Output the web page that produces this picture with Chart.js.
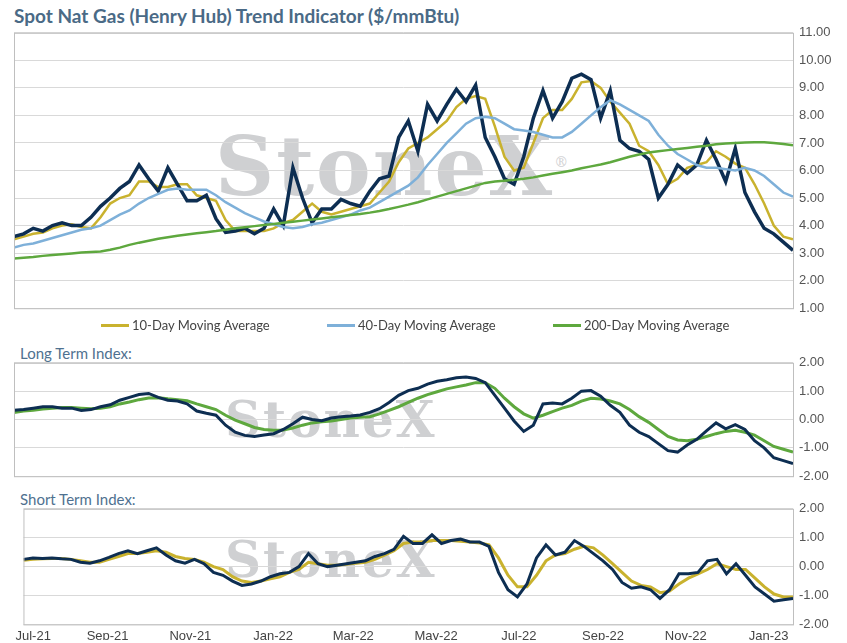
<!DOCTYPE html>
<html>
<head>
<meta charset="utf-8">
<script src="https://cdn.jsdelivr.net/npm/chart.js@4/dist/chart.umd.min.js"></script>
<style>
  body { margin:0; width:847px; height:643px; background:#fff; font-family:Lato, "Open Sans", sans-serif; position:relative; overflow:hidden; }
  .box { position:absolute; left:0; width:847px; }
  .title { position:absolute; left:14px; top:4px; font-size:19px; font-weight:bold; color:#4a6a86; }
  .sub { position:absolute; left:20px; font-size:15px; color:#4f7190; }
  .mark { position:absolute; font-family:"DejaVu Serif", "Liberation Serif", serif; font-weight:bold; color:#cfd0d2; letter-spacing:2px; }
  .legend { position:absolute; top:317px; font-size:13px; color:#444; display:flex; align-items:center; }
  .legend span.sw { display:inline-block; width:28px; height:3px; margin-right:3px; }
</style>
</head>
<body>
<div class="title">Spot Nat Gas (Henry Hub) Trend Indicator ($/mmBtu)</div>
<div class="mark" style="left:215px;top:118px;font-size:82px;">StoneX<sup style="font-size:14px;font-weight:normal">®</sup></div>
<div class="mark" style="left:225px;top:390px;font-size:50px;">StoneX</div>
<div class="mark" style="left:225px;top:530px;font-size:50px;">StoneX</div>
<div class="box" style="top:19px;height:303px"><canvas id="c1"></canvas></div>
<div class="legend" style="left:101px"><span class="sw" style="background:#c9b22e"></span>10-Day Moving Average</div>
<div class="legend" style="left:327px"><span class="sw" style="background:#7eb0d9"></span>40-Day Moving Average</div>
<div class="legend" style="left:553px"><span class="sw" style="background:#5ea83e"></span>200-Day Moving Average</div>
<div class="sub" style="top:344px">Long Term Index:</div>
<div class="box" style="top:349px;height:141px"><canvas id="c2"></canvas></div>
<div class="sub" style="top:490px">Short Term Index:</div>
<div class="box" style="top:495px;height:145px"><canvas id="c3"></canvas></div>
<script>
// weekly samples starting 1 Jul 2021 (x = days since start)
const spot = [3.6,3.7,3.9,3.8,4.0,4.1,4.0,4.0,4.3,4.7,5.0,5.35,5.6,6.2,5.7,5.25,6.1,5.5,4.9,4.9,5.1,4.25,3.75,3.8,3.9,3.7,3.9,4.6,4.0,6.1,5.0,4.1,4.6,4.6,4.95,4.8,4.7,5.25,5.7,5.8,7.2,7.8,6.7,8.4,7.8,8.4,8.95,8.5,9.1,7.2,6.5,5.7,5.5,6.5,7.9,8.9,7.9,8.5,9.35,9.5,9.3,7.9,8.9,7.1,6.8,6.7,6.4,5.0,5.5,6.2,5.9,6.2,7.1,6.4,5.6,6.8,5.2,4.5,3.9,3.7,3.4,3.1];
const ma10 = [3.5,3.6,3.7,3.75,3.9,4.0,4.05,3.95,3.9,4.3,4.8,5.0,5.1,5.6,5.6,5.4,5.4,5.5,5.5,5.1,5.0,4.9,4.2,3.8,3.8,3.8,3.8,3.9,4.1,4.2,4.5,4.8,4.5,4.4,4.5,4.6,4.7,4.8,5.2,5.6,6.3,6.8,7.0,7.2,7.5,7.8,8.3,8.6,8.7,8.6,7.6,6.5,6.0,6.1,7.0,7.9,8.2,8.2,8.6,9.2,9.25,9.0,8.5,8.1,7.7,6.9,6.7,6.2,5.5,5.7,6.1,6.2,6.3,6.7,6.5,6.25,6.1,5.5,4.8,4.0,3.6,3.5];
const ma40 = [3.2,3.3,3.35,3.45,3.55,3.65,3.75,3.85,3.9,4.0,4.2,4.4,4.55,4.8,5.0,5.15,5.3,5.35,5.3,5.3,5.3,5.1,4.85,4.65,4.45,4.3,4.15,4.05,3.95,3.9,3.95,4.05,4.1,4.2,4.3,4.4,4.55,4.65,4.85,5.05,5.25,5.45,5.75,6.2,6.6,7.0,7.35,7.7,7.9,7.95,7.9,7.7,7.5,7.45,7.4,7.3,7.2,7.2,7.4,7.7,8.0,8.3,8.55,8.4,8.2,8.0,7.8,7.3,6.9,6.6,6.4,6.2,6.1,6.1,6.05,6.0,6.1,6.0,5.8,5.5,5.2,5.05];
const ma200 = [2.8,2.83,2.86,2.9,2.93,2.96,2.99,3.02,3.04,3.06,3.12,3.2,3.3,3.38,3.45,3.52,3.58,3.63,3.68,3.72,3.76,3.8,3.85,3.9,3.94,3.98,4.02,4.06,4.1,4.14,4.18,4.22,4.26,4.3,4.34,4.38,4.42,4.47,4.53,4.6,4.68,4.76,4.85,4.95,5.05,5.15,5.25,5.35,5.45,5.55,5.6,5.63,5.66,5.7,5.75,5.82,5.88,5.94,6.0,6.08,6.15,6.22,6.3,6.4,6.5,6.58,6.65,6.7,6.74,6.78,6.82,6.86,6.9,6.95,6.98,7.0,7.02,7.03,7.03,7.0,6.96,6.92];
const ltIndex = [0.33,0.35,0.4,0.45,0.45,0.4,0.4,0.32,0.35,0.45,0.52,0.68,0.78,0.88,0.92,0.78,0.68,0.65,0.55,0.3,0.22,0.15,-0.2,-0.45,-0.56,-0.6,-0.55,-0.5,-0.35,-0.15,0.08,0.0,-0.04,0.05,0.1,0.12,0.16,0.25,0.38,0.6,0.85,1.02,1.1,1.25,1.35,1.4,1.47,1.5,1.45,1.3,0.85,0.4,-0.05,-0.42,-0.2,0.55,0.58,0.55,0.75,1.0,1.02,0.82,0.5,0.25,-0.2,-0.45,-0.6,-0.85,-1.1,-1.15,-0.9,-0.7,-0.4,-0.12,-0.33,-0.18,-0.35,-0.75,-1.0,-1.35,-1.45,-1.55];
const ltSignal = [0.25,0.3,0.33,0.37,0.4,0.42,0.42,0.4,0.38,0.4,0.45,0.55,0.62,0.7,0.76,0.77,0.73,0.7,0.66,0.55,0.45,0.35,0.15,-0.02,-0.15,-0.28,-0.35,-0.38,-0.37,-0.3,-0.2,-0.12,-0.08,-0.05,0.0,0.05,0.08,0.1,0.2,0.32,0.45,0.6,0.75,0.88,0.98,1.08,1.15,1.22,1.3,1.3,1.1,0.75,0.45,0.2,0.05,0.15,0.28,0.4,0.5,0.65,0.75,0.72,0.65,0.55,0.35,0.1,-0.1,-0.35,-0.6,-0.72,-0.75,-0.7,-0.6,-0.5,-0.42,-0.38,-0.45,-0.55,-0.75,-0.95,-1.05,-1.15];
const stIndex = [0.25,0.3,0.28,0.3,0.27,0.25,0.15,0.12,0.2,0.32,0.45,0.55,0.45,0.55,0.65,0.4,0.2,0.12,0.25,0.1,-0.2,-0.3,-0.5,-0.65,-0.6,-0.5,-0.35,-0.25,-0.2,0.0,0.45,0.1,0.0,0.05,0.1,0.15,0.2,0.35,0.45,0.6,1.05,0.8,0.8,1.1,0.8,0.9,0.95,0.85,0.85,0.7,-0.2,-0.8,-1.05,-0.6,0.3,0.75,0.4,0.5,0.9,0.7,0.45,0.2,-0.1,-0.55,-0.75,-0.7,-0.8,-1.1,-0.8,-0.25,-0.25,-0.2,0.2,0.25,-0.25,0.1,-0.3,-0.7,-0.95,-1.2,-1.15,-1.1];
const stSignal = [0.22,0.25,0.27,0.28,0.28,0.25,0.2,0.15,0.15,0.25,0.35,0.45,0.45,0.5,0.55,0.5,0.35,0.28,0.25,0.15,0.0,-0.1,-0.35,-0.5,-0.55,-0.5,-0.42,-0.35,-0.2,-0.1,0.15,0.1,0.05,0.05,0.08,0.12,0.15,0.25,0.4,0.55,0.8,0.85,0.85,0.9,0.9,0.9,0.88,0.85,0.82,0.75,0.3,-0.3,-0.7,-0.7,-0.3,0.2,0.4,0.45,0.6,0.7,0.65,0.4,0.1,-0.2,-0.5,-0.65,-0.7,-0.9,-0.85,-0.6,-0.4,-0.25,-0.1,0.1,0.0,-0.1,-0.1,-0.4,-0.7,-0.95,-1.05,-1.05];
const monthDays = [0,62,123,184,243,304,365,427,488,549];
const monthLabels = ['Jul-21','Sep-21','Nov-21','Jan-22','Mar-22','May-22','Jul-22','Sep-22','Nov-22','Jan-23'];

const NAVY = '#0d2e52', GOLD = '#c9b22e', BLUE = '#7eb0d9', GREEN = '#5ea83e';
const pts = arr => arr.map((v, i) => ({ x: i * 7, y: v }));
const line = (arr, color, w) => ({ data: pts(arr), borderColor: color, borderWidth: w, pointRadius: 0, fill: false, tension: 0 });

const frame = {
  id: 'frame',
  afterDraw(c) {
    const a = c.chartArea, g = c.ctx;
    g.save(); g.strokeStyle = '#bfbfbf'; g.lineWidth = 1;
    g.strokeRect(a.left + 0.5, a.top + 0.5, a.right - a.left, a.bottom - a.top);
    g.restore();
  }
};

function panel(id, datasets, yMin, yMax, step, showX) {
  new Chart(document.getElementById(id), {
    type: 'line',
    data: { datasets },
    plugins: [frame],
    options: {
      responsive: true, maintainAspectRatio: false, animation: false,
      layout: { padding: { left: 14, top: 3, bottom: showX ? 0 : 2, right: 0 } },
      plugins: { legend: { display: false }, tooltip: { enabled: false } },
      scales: {
        x: {
          type: 'linear', min: 0, max: 567, display: showX,
          afterBuildTicks: ax => { ax.ticks = monthDays.map(v => ({ value: v })); },
          ticks: { autoSkip: false, maxRotation: 0, color: '#444', font: { size: 13 }, padding: -4,
                   callback: v => { const i = monthDays.indexOf(v); return i === 0 ? '\u2002\u2002\u2002' + monthLabels[0] : monthLabels[i]; } },
          grid: { display: false }, border: { display: false }
        },
        y: {
          position: 'right', min: yMin, max: yMax,
          afterFit: ax => { ax.width = 54; },
          ticks: { stepSize: step, color: '#555', font: { size: 13 }, padding: 6, callback: v => v.toFixed(2) },
          grid: { color: '#d9d9d9', drawTicks: false }, border: { display: false }
        }
      }
    }
  });
}

panel('c1', [line(ma200, GREEN, 2.5), line(ma40, BLUE, 2.5), line(spot, NAVY, 3.5), line(ma10, GOLD, 2.5)], 1, 11, 1, false);
panel('c2', [line(ltIndex, NAVY, 3), line(ltSignal, GREEN, 3)], -2, 2, 1, false);
panel('c3', [line(stIndex, NAVY, 3), line(stSignal, GOLD, 3)], -2, 2, 1, true);
</script>
</body>
</html>
